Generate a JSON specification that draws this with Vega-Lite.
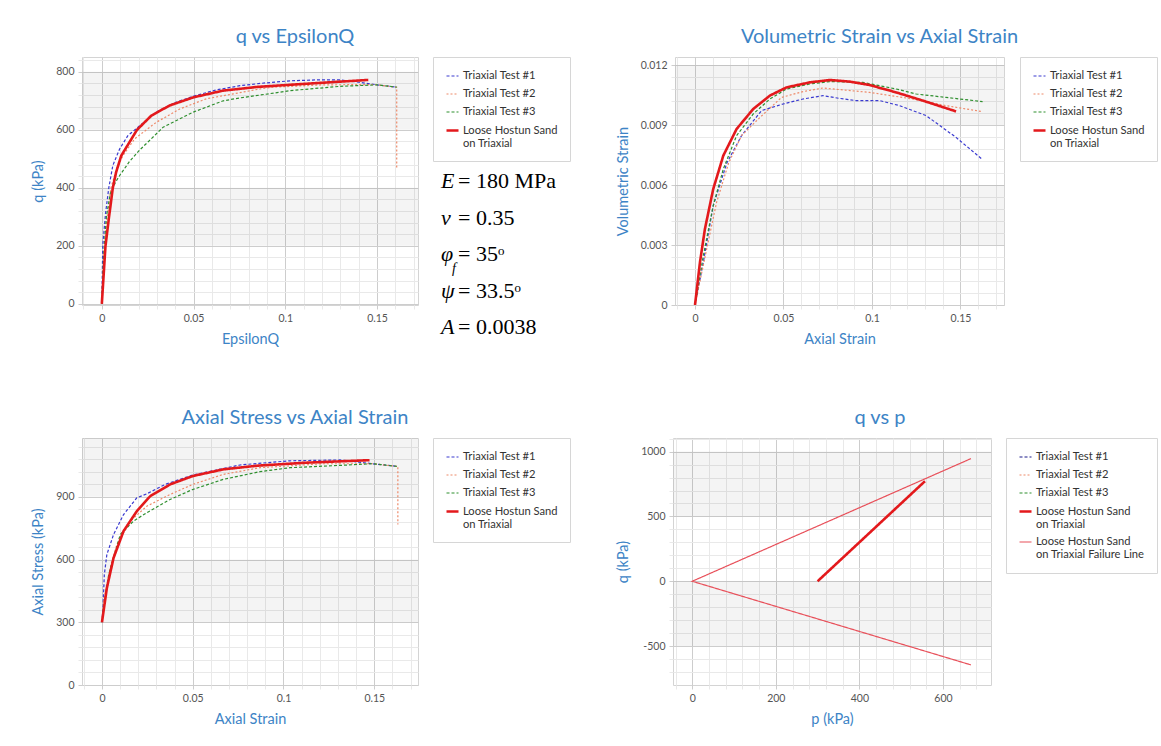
{
"$schema": "https://vega.github.io/schema/vega-lite/v6.json",
"background": "white",
"padding": {"left": 30, "top": 26, "right": 5, "bottom": 5},
"bounds": "flush",
"spacing": 381,
"resolve": {"scale": {"color": "independent", "strokeDash": "independent", "strokeWidth": "independent"}, "legend": {"color": "independent", "strokeDash": "independent", "strokeWidth": "independent"}},
"datasets": {
"b1": [{"lo": 200, "hi": 400}, {"lo": 600, "hi": 800}],
"b2": [{"lo": 0.003, "hi": 0.006}, {"lo": 0.009, "hi": 0.012}],
"b3": [{"lo": 300, "hi": 600}, {"lo": 900, "hi": 1200}],
"b4": [{"lo": -500, "hi": 0}, {"lo": 500, "hi": 1000}],
"f1": [{"v": "E", "t": "= 180 MPa"}, {"v": "ν", "t": "= 0.35"}, {"v": "φ", "t": "= 35ᵒ"}, {"v": "ψ", "t": "= 33.5ᵒ"}, {"v": "A", "t": "= 0.0038"}],
"f2": [{"sub": "f"}],
"p1t": [
{"s": "Triaxial Test #1", "x": 0, "y": 0}, {"s": "Triaxial Test #1", "x": 0.0005, "y": 200}, {"s": "Triaxial Test #1", "x": 0.002, "y": 310}, {"s": "Triaxial Test #1", "x": 0.0038, "y": 400}, {"s": "Triaxial Test #1", "x": 0.006, "y": 477}, {"s": "Triaxial Test #1", "x": 0.0097, "y": 534}, {"s": "Triaxial Test #1", "x": 0.0142, "y": 580}, {"s": "Triaxial Test #1", "x": 0.0203, "y": 612}, {"s": "Triaxial Test #1", "x": 0.03, "y": 662}, {"s": "Triaxial Test #1", "x": 0.04, "y": 694}, {"s": "Triaxial Test #1", "x": 0.05, "y": 716}, {"s": "Triaxial Test #1", "x": 0.062, "y": 737}, {"s": "Triaxial Test #1", "x": 0.0753, "y": 752}, {"s": "Triaxial Test #1", "x": 0.0863, "y": 760}, {"s": "Triaxial Test #1", "x": 0.1027, "y": 769}, {"s": "Triaxial Test #1", "x": 0.117, "y": 772}, {"s": "Triaxial Test #1", "x": 0.13, "y": 772}, {"s": "Triaxial Test #1", "x": 0.14, "y": 764}, {"s": "Triaxial Test #1", "x": 0.15, "y": 755}, {"s": "Triaxial Test #1", "x": 0.1607, "y": 747},
{"s": "Triaxial Test #2", "x": 0, "y": 0}, {"s": "Triaxial Test #2", "x": 0.001, "y": 150}, {"s": "Triaxial Test #2", "x": 0.0025, "y": 280}, {"s": "Triaxial Test #2", "x": 0.005, "y": 400}, {"s": "Triaxial Test #2", "x": 0.008, "y": 465}, {"s": "Triaxial Test #2", "x": 0.0115, "y": 511}, {"s": "Triaxial Test #2", "x": 0.0179, "y": 569}, {"s": "Triaxial Test #2", "x": 0.0297, "y": 626}, {"s": "Triaxial Test #2", "x": 0.0425, "y": 672}, {"s": "Triaxial Test #2", "x": 0.057, "y": 707}, {"s": "Triaxial Test #2", "x": 0.0717, "y": 724}, {"s": "Triaxial Test #2", "x": 0.0863, "y": 741}, {"s": "Triaxial Test #2", "x": 0.0936, "y": 747}, {"s": "Triaxial Test #2", "x": 0.121, "y": 755}, {"s": "Triaxial Test #2", "x": 0.148, "y": 756}, {"s": "Triaxial Test #2", "x": 0.1607, "y": 747}, {"s": "Triaxial Test #2", "x": 0.1607, "y": 466},
{"s": "Triaxial Test #3", "x": 0, "y": 0}, {"s": "Triaxial Test #3", "x": 0.001, "y": 170}, {"s": "Triaxial Test #3", "x": 0.0025, "y": 300}, {"s": "Triaxial Test #3", "x": 0.0046, "y": 380}, {"s": "Triaxial Test #3", "x": 0.0075, "y": 420}, {"s": "Triaxial Test #3", "x": 0.01, "y": 445}, {"s": "Triaxial Test #3", "x": 0.015, "y": 490}, {"s": "Triaxial Test #3", "x": 0.0206, "y": 530}, {"s": "Triaxial Test #3", "x": 0.0334, "y": 609}, {"s": "Triaxial Test #3", "x": 0.0498, "y": 661}, {"s": "Triaxial Test #3", "x": 0.0662, "y": 700}, {"s": "Triaxial Test #3", "x": 0.0753, "y": 710}, {"s": "Triaxial Test #3", "x": 0.0864, "y": 720}, {"s": "Triaxial Test #3", "x": 0.1027, "y": 735}, {"s": "Triaxial Test #3", "x": 0.13, "y": 750}, {"s": "Triaxial Test #3", "x": 0.15, "y": 755}, {"s": "Triaxial Test #3", "x": 0.1607, "y": 747}
],
"p1r": [
{"s": "Loose Hostun Sand on Triaxial", "x": 0, "y": 0}, {"s": "Loose Hostun Sand on Triaxial", "x": 0.001, "y": 100}, {"s": "Loose Hostun Sand on Triaxial", "x": 0.002, "y": 200}, {"s": "Loose Hostun Sand on Triaxial", "x": 0.0038, "y": 293}, {"s": "Loose Hostun Sand on Triaxial", "x": 0.006, "y": 400}, {"s": "Loose Hostun Sand on Triaxial", "x": 0.0078, "y": 454}, {"s": "Loose Hostun Sand on Triaxial", "x": 0.0106, "y": 511}, {"s": "Loose Hostun Sand on Triaxial", "x": 0.0192, "y": 600}, {"s": "Loose Hostun Sand on Triaxial", "x": 0.027, "y": 649}, {"s": "Loose Hostun Sand on Triaxial", "x": 0.037, "y": 684}, {"s": "Loose Hostun Sand on Triaxial", "x": 0.05, "y": 712}, {"s": "Loose Hostun Sand on Triaxial", "x": 0.066, "y": 735}, {"s": "Loose Hostun Sand on Triaxial", "x": 0.085, "y": 748}, {"s": "Loose Hostun Sand on Triaxial", "x": 0.112, "y": 759}, {"s": "Loose Hostun Sand on Triaxial", "x": 0.1452, "y": 772}
],
"p2t": [
{"s": "Triaxial Test #1", "x": 0, "y": 0}, {"s": "Triaxial Test #1", "x": 0.0047, "y": 0.00213}, {"s": "Triaxial Test #1", "x": 0.0103, "y": 0.00497}, {"s": "Triaxial Test #1", "x": 0.018, "y": 0.0071}, {"s": "Triaxial Test #1", "x": 0.0263, "y": 0.00847}, {"s": "Triaxial Test #1", "x": 0.0376, "y": 0.00972}, {"s": "Triaxial Test #1", "x": 0.0498, "y": 0.01005}, {"s": "Triaxial Test #1", "x": 0.061, "y": 0.0103}, {"s": "Triaxial Test #1", "x": 0.0723, "y": 0.01047}, {"s": "Triaxial Test #1", "x": 0.0817, "y": 0.01033}, {"s": "Triaxial Test #1", "x": 0.091, "y": 0.01022}, {"s": "Triaxial Test #1", "x": 0.1043, "y": 0.01022}, {"s": "Triaxial Test #1", "x": 0.1155, "y": 0.00997}, {"s": "Triaxial Test #1", "x": 0.1306, "y": 0.00947}, {"s": "Triaxial Test #1", "x": 0.1475, "y": 0.00838}, {"s": "Triaxial Test #1", "x": 0.1625, "y": 0.00727},
{"s": "Triaxial Test #2", "x": 0, "y": 0}, {"s": "Triaxial Test #2", "x": 0.0066, "y": 0.0028}, {"s": "Triaxial Test #2", "x": 0.0122, "y": 0.00513}, {"s": "Triaxial Test #2", "x": 0.019, "y": 0.0071}, {"s": "Triaxial Test #2", "x": 0.0263, "y": 0.00847}, {"s": "Triaxial Test #2", "x": 0.0367, "y": 0.00938}, {"s": "Triaxial Test #2", "x": 0.0489, "y": 0.01038}, {"s": "Triaxial Test #2", "x": 0.061, "y": 0.01067}, {"s": "Triaxial Test #2", "x": 0.0723, "y": 0.01085}, {"s": "Triaxial Test #2", "x": 0.0817, "y": 0.01077}, {"s": "Triaxial Test #2", "x": 0.0986, "y": 0.01063}, {"s": "Triaxial Test #2", "x": 0.1231, "y": 0.0103}, {"s": "Triaxial Test #2", "x": 0.1418, "y": 0.00997}, {"s": "Triaxial Test #2", "x": 0.1615, "y": 0.00968},
{"s": "Triaxial Test #3", "x": 0, "y": 0}, {"s": "Triaxial Test #3", "x": 0.0047, "y": 0.00247}, {"s": "Triaxial Test #3", "x": 0.0103, "y": 0.00497}, {"s": "Triaxial Test #3", "x": 0.016, "y": 0.0068}, {"s": "Triaxial Test #3", "x": 0.0235, "y": 0.00847}, {"s": "Triaxial Test #3", "x": 0.0329, "y": 0.00955}, {"s": "Triaxial Test #3", "x": 0.0423, "y": 0.0103}, {"s": "Triaxial Test #3", "x": 0.0517, "y": 0.0108}, {"s": "Triaxial Test #3", "x": 0.0648, "y": 0.01105}, {"s": "Triaxial Test #3", "x": 0.0761, "y": 0.01117}, {"s": "Triaxial Test #3", "x": 0.0949, "y": 0.01113}, {"s": "Triaxial Test #3", "x": 0.1137, "y": 0.0108}, {"s": "Triaxial Test #3", "x": 0.125, "y": 0.01055}, {"s": "Triaxial Test #3", "x": 0.1418, "y": 0.01038}, {"s": "Triaxial Test #3", "x": 0.1625, "y": 0.01017}
],
"p2r": [
{"s": "Loose Hostun Sand on Triaxial", "x": 0, "y": 0}, {"s": "Loose Hostun Sand on Triaxial", "x": 0.0028, "y": 0.00213}, {"s": "Loose Hostun Sand on Triaxial", "x": 0.0056, "y": 0.0038}, {"s": "Loose Hostun Sand on Triaxial", "x": 0.0103, "y": 0.0058}, {"s": "Loose Hostun Sand on Triaxial", "x": 0.016, "y": 0.00747}, {"s": "Loose Hostun Sand on Triaxial", "x": 0.0235, "y": 0.0088}, {"s": "Loose Hostun Sand on Triaxial", "x": 0.0329, "y": 0.0098}, {"s": "Loose Hostun Sand on Triaxial", "x": 0.0423, "y": 0.01047}, {"s": "Loose Hostun Sand on Triaxial", "x": 0.0517, "y": 0.01088}, {"s": "Loose Hostun Sand on Triaxial", "x": 0.0648, "y": 0.01113}, {"s": "Loose Hostun Sand on Triaxial", "x": 0.0761, "y": 0.01125}, {"s": "Loose Hostun Sand on Triaxial", "x": 0.0874, "y": 0.01117}, {"s": "Loose Hostun Sand on Triaxial", "x": 0.0986, "y": 0.011}, {"s": "Loose Hostun Sand on Triaxial", "x": 0.1137, "y": 0.01063}, {"s": "Loose Hostun Sand on Triaxial", "x": 0.1287, "y": 0.01022}, {"s": "Loose Hostun Sand on Triaxial", "x": 0.1475, "y": 0.00968}
],
"p3t": [
{"s": "Triaxial Test #1", "x": 0, "y": 300}, {"s": "Triaxial Test #1", "x": 0.00055, "y": 369}, {"s": "Triaxial Test #1", "x": 0.0013, "y": 528}, {"s": "Triaxial Test #1", "x": 0.0027, "y": 624}, {"s": "Triaxial Test #1", "x": 0.0064, "y": 720}, {"s": "Triaxial Test #1", "x": 0.0119, "y": 815}, {"s": "Triaxial Test #1", "x": 0.0192, "y": 895}, {"s": "Triaxial Test #1", "x": 0.0247, "y": 914}, {"s": "Triaxial Test #1", "x": 0.035, "y": 960}, {"s": "Triaxial Test #1", "x": 0.05, "y": 1004}, {"s": "Triaxial Test #1", "x": 0.076, "y": 1052}, {"s": "Triaxial Test #1", "x": 0.1035, "y": 1072}, {"s": "Triaxial Test #1", "x": 0.131, "y": 1076}, {"s": "Triaxial Test #1", "x": 0.149, "y": 1058}, {"s": "Triaxial Test #1", "x": 0.163, "y": 1045},
{"s": "Triaxial Test #2", "x": 0, "y": 300}, {"s": "Triaxial Test #2", "x": 0.0009, "y": 400}, {"s": "Triaxial Test #2", "x": 0.0046, "y": 560}, {"s": "Triaxial Test #2", "x": 0.0082, "y": 672}, {"s": "Triaxial Test #2", "x": 0.0156, "y": 784}, {"s": "Triaxial Test #2", "x": 0.0247, "y": 855}, {"s": "Triaxial Test #2", "x": 0.0375, "y": 911}, {"s": "Triaxial Test #2", "x": 0.05, "y": 959}, {"s": "Triaxial Test #2", "x": 0.0668, "y": 1007}, {"s": "Triaxial Test #2", "x": 0.087, "y": 1039}, {"s": "Triaxial Test #2", "x": 0.1218, "y": 1058}, {"s": "Triaxial Test #2", "x": 0.149, "y": 1058}, {"s": "Triaxial Test #2", "x": 0.163, "y": 1045}, {"s": "Triaxial Test #2", "x": 0.163, "y": 768},
{"s": "Triaxial Test #3", "x": 0, "y": 300}, {"s": "Triaxial Test #3", "x": 0.0009, "y": 369}, {"s": "Triaxial Test #3", "x": 0.0037, "y": 528}, {"s": "Triaxial Test #3", "x": 0.0101, "y": 720}, {"s": "Triaxial Test #3", "x": 0.0174, "y": 784}, {"s": "Triaxial Test #3", "x": 0.0247, "y": 824}, {"s": "Triaxial Test #3", "x": 0.0375, "y": 887}, {"s": "Triaxial Test #3", "x": 0.05, "y": 935}, {"s": "Triaxial Test #3", "x": 0.0668, "y": 983}, {"s": "Triaxial Test #3", "x": 0.087, "y": 1020}, {"s": "Triaxial Test #3", "x": 0.1035, "y": 1039}, {"s": "Triaxial Test #3", "x": 0.131, "y": 1050}, {"s": "Triaxial Test #3", "x": 0.149, "y": 1058}, {"s": "Triaxial Test #3", "x": 0.163, "y": 1045}
],
"p3r": [
{"s": "Loose Hostun Sand on Triaxial", "x": 0, "y": 300}, {"s": "Loose Hostun Sand on Triaxial", "x": 0.0027, "y": 464}, {"s": "Loose Hostun Sand on Triaxial", "x": 0.0064, "y": 608}, {"s": "Loose Hostun Sand on Triaxial", "x": 0.0119, "y": 736}, {"s": "Loose Hostun Sand on Triaxial", "x": 0.0192, "y": 831}, {"s": "Loose Hostun Sand on Triaxial", "x": 0.0266, "y": 903}, {"s": "Loose Hostun Sand on Triaxial", "x": 0.0375, "y": 959}, {"s": "Loose Hostun Sand on Triaxial", "x": 0.05, "y": 999}, {"s": "Loose Hostun Sand on Triaxial", "x": 0.0668, "y": 1031}, {"s": "Loose Hostun Sand on Triaxial", "x": 0.086, "y": 1049}, {"s": "Loose Hostun Sand on Triaxial", "x": 0.1126, "y": 1063}, {"s": "Loose Hostun Sand on Triaxial", "x": 0.1474, "y": 1075}
],
"p4f": [
{"s": "Loose Hostun Sand on Triaxial Failure Line", "x": 667, "y": 946}, {"s": "Loose Hostun Sand on Triaxial Failure Line", "x": 0, "y": 0}, {"s": "Loose Hostun Sand on Triaxial Failure Line", "x": 667, "y": -645}
],
"p4r": [
{"s": "Loose Hostun Sand on Triaxial", "x": 300, "y": 0}, {"s": "Loose Hostun Sand on Triaxial", "x": 557, "y": 772}
]
},
"vconcat": [
{"hconcat": [
{
"width": 336, "height": 248,
"title": {"text": "q vs EpsilonQ", "dx": 45},
"layer": [
{"data": {"name": "b1"}, "mark": {"type": "rect", "fill": "#000", "fillOpacity": 0.045, "clip": true},
 "encoding": {"y": {"field": "lo", "type": "quantitative", "scale": {"domain": [-4, 851], "nice": false, "zero": false}, "axis": null}, "y2": {"field": "hi"}}},
{"data": {"name": "p1t"}, "mark": {"type": "line", "clip": true},
 "encoding": {
  "x": {"field": "x", "type": "quantitative", "scale": {"domain": [-0.0108, 0.1723], "nice": false, "zero": false}, "axis": {"orient": "bottom", "values": [-0.01, 0.01, 0.02, 0.03, 0.04, 0.06, 0.07, 0.08, 0.09, 0.11, 0.12, 0.13, 0.14, 0.16, 0.17], "labels": false, "title": null, "grid": true, "gridColor": "#e9e9e9", "tickColor": "#e9e9e9"}},
  "y": {"field": "y", "type": "quantitative", "scale": {"domain": [-4, 851], "nice": false, "zero": false}, "axis": {"orient": "left", "values": [40, 80, 120, 160, 240, 280, 320, 360, 440, 480, 520, 560, 640, 680, 720, 760, 840], "labels": false, "title": null, "grid": true, "gridColor": "#e9e9e9", "tickColor": "#e9e9e9"}},
  "color": {"field": "s", "type": "nominal", "scale": {"domain": ["Triaxial Test #1", "Triaxial Test #2", "Triaxial Test #3", "Loose Hostun Sand on Triaxial"], "range": ["#3a3ad0", "#ee8a6a", "#2f8f2f", "#e3191c"]}, "legend": {"title": null, "orient": "none", "legendX": 351, "legendY": 0, "strokeColor": "#d6d6d6", "fillColor": "#ffffff", "padding": 12, "rowPadding": 5, "symbolType": "stroke", "symbolSize": 144, "labelOffset": 3, "labelFont": "Lato", "labelFontSize": 11.2, "labelColor": "#333333", "labelLimit": 0, "labelExpr": "indexof(datum.label, 'Loose') == 0 ? ['Loose Hostun Sand', slice(datum.label, 18)] : datum.label"}},
  "strokeDash": {"field": "s", "type": "nominal", "scale": {"domain": ["Triaxial Test #1", "Triaxial Test #2", "Triaxial Test #3", "Loose Hostun Sand on Triaxial"], "range": [[3, 2], [2, 2], [3, 2], [1, 0]]}},
  "strokeWidth": {"field": "s", "type": "nominal", "scale": {"type": "ordinal", "domain": ["Triaxial Test #1", "Triaxial Test #2", "Triaxial Test #3", "Loose Hostun Sand on Triaxial"], "range": [1.2, 1.2, 1.2, 2.6]}},
  "order": {"value": null}
 }},
{"data": {"name": "p1r"}, "mark": {"type": "line", "clip": true},
 "encoding": {
  "x": {"field": "x", "type": "quantitative", "scale": {"domain": [-0.0108, 0.1723], "nice": false, "zero": false}, "axis": {"orient": "bottom", "values": [0, 0.05, 0.1, 0.15], "labelExpr": "toString(datum.value)", "title": "EpsilonQ", "grid": true, "gridColor": "#cdcdcd", "tickColor": "#cdcdcd"}},
  "y": {"field": "y", "type": "quantitative", "scale": {"domain": [-4, 851], "nice": false, "zero": false}, "axis": {"orient": "left", "values": [0, 200, 400, 600, 800], "labelExpr": "toString(datum.value)", "title": "q (kPa)", "grid": true, "gridColor": "#cdcdcd", "tickColor": "#cdcdcd"}},
  "color": {"field": "s", "type": "nominal", "scale": {"domain": ["Triaxial Test #1", "Triaxial Test #2", "Triaxial Test #3", "Loose Hostun Sand on Triaxial"], "range": ["#3a3ad0", "#ee8a6a", "#2f8f2f", "#e3191c"]}},
  "strokeDash": {"field": "s", "type": "nominal", "scale": {"domain": ["Triaxial Test #1", "Triaxial Test #2", "Triaxial Test #3", "Loose Hostun Sand on Triaxial"], "range": [[3, 2], [2, 2], [3, 2], [1, 0]]}},
  "strokeWidth": {"field": "s", "type": "nominal", "scale": {"type": "ordinal", "domain": ["Triaxial Test #1", "Triaxial Test #2", "Triaxial Test #3", "Loose Hostun Sand on Triaxial"], "range": [1.2, 1.2, 1.2, 2.6]}},
  "order": {"value": null}
 }},
{"data": {"name": "f1"}, "mark": {"type": "point", "opacity": 0},
 "encoding": {
  "shape": {"field": "v", "type": "nominal", "scale": {"domain": ["E", "ν", "φ", "ψ", "A"]}, "legend": {"title": null, "orient": "none", "legendX": 337, "legendY": 113, "padding": 0, "rowPadding": 14.5, "symbolSize": 0, "symbolOpacity": 0, "labelOffset": 0, "labelFont": "Liberation Serif", "labelFontStyle": "italic", "labelFontSize": 22, "labelColor": "#000000", "labelLimit": 0}},
  "fill": {"field": "t", "type": "nominal", "scale": {"domain": ["= 180 MPa", "= 0.35", "= 35ᵒ", "= 33.5ᵒ", "= 0.0038"]}, "legend": {"title": null, "orient": "none", "legendX": 354, "legendY": 113, "padding": 0, "rowPadding": 14.5, "symbolSize": 0, "symbolOpacity": 0, "labelOffset": 0, "labelFont": "Liberation Serif", "labelFontSize": 22, "labelColor": "#000000", "labelLimit": 0}}
 }},
{"data": {"name": "f2"}, "mark": {"type": "point", "opacity": 0},
 "encoding": {
  "stroke": {"field": "sub", "type": "nominal", "legend": {"title": null, "orient": "none", "legendX": 356, "legendY": 205, "padding": 0, "symbolSize": 0, "symbolOpacity": 0, "labelOffset": 0, "labelFont": "Liberation Serif", "labelFontStyle": "italic", "labelFontSize": 14, "labelColor": "#000000", "labelLimit": 0}}
 }}
],
"resolve": {"axis": {"x": "independent", "y": "independent"}}
},
{
"width": 329, "height": 248,
"title": {"text": "Volumetric Strain vs Axial Strain", "dx": 40},
"layer": [
{"data": {"name": "b2"}, "mark": {"type": "rect", "fill": "#000", "fillOpacity": 0.045, "clip": true},
 "encoding": {"y": {"field": "lo", "type": "quantitative", "scale": {"domain": [0, 0.0124], "nice": false, "zero": false}, "axis": null}, "y2": {"field": "hi"}}},
{"data": {"name": "p2t"}, "mark": {"type": "line", "clip": true},
 "encoding": {
  "x": {"field": "x", "type": "quantitative", "scale": {"domain": [-0.0113, 0.1746], "nice": false, "zero": false}, "axis": {"orient": "bottom", "values": [-0.01, 0.01, 0.02, 0.03, 0.04, 0.06, 0.07, 0.08, 0.09, 0.11, 0.12, 0.13, 0.14, 0.16, 0.17], "labels": false, "title": null, "grid": true, "gridColor": "#e9e9e9", "tickColor": "#e9e9e9"}},
  "y": {"field": "y", "type": "quantitative", "scale": {"domain": [0, 0.0124], "nice": false, "zero": false}, "axis": {"orient": "left", "values": [0.0006, 0.0012, 0.0018, 0.0024, 0.0036, 0.0042, 0.0048, 0.0054, 0.0066, 0.0072, 0.0078, 0.0084, 0.0096, 0.0102, 0.0108, 0.0114], "labels": false, "title": null, "grid": true, "gridColor": "#e9e9e9", "tickColor": "#e9e9e9"}},
  "color": {"field": "s", "type": "nominal", "scale": {"domain": ["Triaxial Test #1", "Triaxial Test #2", "Triaxial Test #3", "Loose Hostun Sand on Triaxial"], "range": ["#3a3ad0", "#ee8a6a", "#2f8f2f", "#e3191c"]}, "legend": {"title": null, "orient": "none", "legendX": 345, "legendY": 0, "strokeColor": "#d6d6d6", "fillColor": "#ffffff", "padding": 12, "rowPadding": 5, "symbolType": "stroke", "symbolSize": 144, "labelOffset": 3, "labelFont": "Lato", "labelFontSize": 11.2, "labelColor": "#333333", "labelLimit": 0, "labelExpr": "indexof(datum.label, 'Loose') == 0 ? ['Loose Hostun Sand', slice(datum.label, 18)] : datum.label"}},
  "strokeDash": {"field": "s", "type": "nominal", "scale": {"domain": ["Triaxial Test #1", "Triaxial Test #2", "Triaxial Test #3", "Loose Hostun Sand on Triaxial"], "range": [[3, 2], [2, 2], [3, 2], [1, 0]]}},
  "strokeWidth": {"field": "s", "type": "nominal", "scale": {"type": "ordinal", "domain": ["Triaxial Test #1", "Triaxial Test #2", "Triaxial Test #3", "Loose Hostun Sand on Triaxial"], "range": [1.2, 1.2, 1.2, 2.6]}},
  "order": {"value": null}
 }},
{"data": {"name": "p2r"}, "mark": {"type": "line", "clip": true},
 "encoding": {
  "x": {"field": "x", "type": "quantitative", "scale": {"domain": [-0.0113, 0.1746], "nice": false, "zero": false}, "axis": {"orient": "bottom", "values": [0, 0.05, 0.1, 0.15], "labelExpr": "toString(datum.value)", "title": "Axial Strain", "grid": true, "gridColor": "#cdcdcd", "tickColor": "#cdcdcd"}},
  "y": {"field": "y", "type": "quantitative", "scale": {"domain": [0, 0.0124], "nice": false, "zero": false}, "axis": {"orient": "left", "values": [0, 0.003, 0.006, 0.009, 0.012], "labelExpr": "toString(datum.value)", "title": "Volumetric Strain", "grid": true, "gridColor": "#cdcdcd", "tickColor": "#cdcdcd"}},
  "color": {"field": "s", "type": "nominal", "scale": {"domain": ["Triaxial Test #1", "Triaxial Test #2", "Triaxial Test #3", "Loose Hostun Sand on Triaxial"], "range": ["#3a3ad0", "#ee8a6a", "#2f8f2f", "#e3191c"]}},
  "strokeDash": {"field": "s", "type": "nominal", "scale": {"domain": ["Triaxial Test #1", "Triaxial Test #2", "Triaxial Test #3", "Loose Hostun Sand on Triaxial"], "range": [[3, 2], [2, 2], [3, 2], [1, 0]]}},
  "strokeWidth": {"field": "s", "type": "nominal", "scale": {"type": "ordinal", "domain": ["Triaxial Test #1", "Triaxial Test #2", "Triaxial Test #3", "Loose Hostun Sand on Triaxial"], "range": [1.2, 1.2, 1.2, 2.6]}},
  "order": {"value": null}
 }}
],
"resolve": {"axis": {"x": "independent", "y": "independent"}}
}
], "spacing": 257, "bounds": "flush",
"resolve": {"scale": {"color": "independent", "strokeDash": "independent", "strokeWidth": "independent"}, "legend": {"color": "independent", "strokeDash": "independent", "strokeWidth": "independent"}}},
{"hconcat": [
{
"width": 336, "height": 247,
"title": {"text": "Axial Stress vs Axial Strain", "dx": 45},
"layer": [
{"data": {"name": "b3"}, "mark": {"type": "rect", "fill": "#000", "fillOpacity": 0.045, "clip": true},
 "encoding": {"y": {"field": "lo", "type": "quantitative", "scale": {"domain": [0, 1181], "nice": false, "zero": false}, "axis": null}, "y2": {"field": "hi"}}},
{"data": {"name": "p3t"}, "mark": {"type": "line", "clip": true},
 "encoding": {
  "x": {"field": "x", "type": "quantitative", "scale": {"domain": [-0.011, 0.1741], "nice": false, "zero": false}, "axis": {"orient": "bottom", "values": [-0.01, 0.01, 0.02, 0.03, 0.04, 0.06, 0.07, 0.08, 0.09, 0.11, 0.12, 0.13, 0.14, 0.16, 0.17], "labels": false, "title": null, "grid": true, "gridColor": "#e9e9e9", "tickColor": "#e9e9e9"}},
  "y": {"field": "y", "type": "quantitative", "scale": {"domain": [0, 1181], "nice": false, "zero": false}, "axis": {"orient": "left", "values": [60, 120, 180, 240, 360, 420, 480, 540, 660, 720, 780, 840, 960, 1020, 1080, 1140], "labels": false, "title": null, "grid": true, "gridColor": "#e9e9e9", "tickColor": "#e9e9e9"}},
  "color": {"field": "s", "type": "nominal", "scale": {"domain": ["Triaxial Test #1", "Triaxial Test #2", "Triaxial Test #3", "Loose Hostun Sand on Triaxial"], "range": ["#3a3ad0", "#ee8a6a", "#2f8f2f", "#e3191c"]}, "legend": {"title": null, "orient": "none", "legendX": 351, "legendY": 0, "strokeColor": "#d6d6d6", "fillColor": "#ffffff", "padding": 12, "rowPadding": 5, "symbolType": "stroke", "symbolSize": 144, "labelOffset": 3, "labelFont": "Lato", "labelFontSize": 11.2, "labelColor": "#333333", "labelLimit": 0, "labelExpr": "indexof(datum.label, 'Loose') == 0 ? ['Loose Hostun Sand', slice(datum.label, 18)] : datum.label"}},
  "strokeDash": {"field": "s", "type": "nominal", "scale": {"domain": ["Triaxial Test #1", "Triaxial Test #2", "Triaxial Test #3", "Loose Hostun Sand on Triaxial"], "range": [[3, 2], [2, 2], [3, 2], [1, 0]]}},
  "strokeWidth": {"field": "s", "type": "nominal", "scale": {"type": "ordinal", "domain": ["Triaxial Test #1", "Triaxial Test #2", "Triaxial Test #3", "Loose Hostun Sand on Triaxial"], "range": [1.2, 1.2, 1.2, 2.6]}},
  "order": {"value": null}
 }},
{"data": {"name": "p3r"}, "mark": {"type": "line", "clip": true},
 "encoding": {
  "x": {"field": "x", "type": "quantitative", "scale": {"domain": [-0.011, 0.1741], "nice": false, "zero": false}, "axis": {"orient": "bottom", "values": [0, 0.05, 0.1, 0.15], "labelExpr": "toString(datum.value)", "title": "Axial Strain", "grid": true, "gridColor": "#cdcdcd", "tickColor": "#cdcdcd"}},
  "y": {"field": "y", "type": "quantitative", "scale": {"domain": [0, 1181], "nice": false, "zero": false}, "axis": {"orient": "left", "values": [0, 300, 600, 900], "labelExpr": "toString(datum.value)", "title": "Axial Stress (kPa)", "grid": true, "gridColor": "#cdcdcd", "tickColor": "#cdcdcd"}},
  "color": {"field": "s", "type": "nominal", "scale": {"domain": ["Triaxial Test #1", "Triaxial Test #2", "Triaxial Test #3", "Loose Hostun Sand on Triaxial"], "range": ["#3a3ad0", "#ee8a6a", "#2f8f2f", "#e3191c"]}},
  "strokeDash": {"field": "s", "type": "nominal", "scale": {"domain": ["Triaxial Test #1", "Triaxial Test #2", "Triaxial Test #3", "Loose Hostun Sand on Triaxial"], "range": [[3, 2], [2, 2], [3, 2], [1, 0]]}},
  "strokeWidth": {"field": "s", "type": "nominal", "scale": {"type": "ordinal", "domain": ["Triaxial Test #1", "Triaxial Test #2", "Triaxial Test #3", "Loose Hostun Sand on Triaxial"], "range": [1.2, 1.2, 1.2, 2.6]}},
  "order": {"value": null}
 }}
],
"resolve": {"axis": {"x": "independent", "y": "independent"}}
},
{
"width": 318, "height": 247,
"title": {"text": "q vs p", "dx": 48},
"layer": [
{"data": {"name": "b4"}, "mark": {"type": "rect", "fill": "#000", "fillOpacity": 0.045, "clip": true},
 "encoding": {"y": {"field": "lo", "type": "quantitative", "scale": {"domain": [-800, 1105], "nice": false, "zero": false}, "axis": null}, "y2": {"field": "hi"}}},
{"data": {"name": "p4f"}, "mark": {"type": "line", "clip": true},
 "encoding": {
  "x": {"field": "x", "type": "quantitative", "scale": {"domain": [-46, 715], "nice": false, "zero": false}, "axis": {"orient": "bottom", "values": [-40, 40, 80, 120, 160, 240, 280, 320, 360, 440, 480, 520, 560, 640, 680], "labels": false, "title": null, "grid": true, "gridColor": "#e9e9e9", "tickColor": "#e9e9e9"}},
  "y": {"field": "y", "type": "quantitative", "scale": {"domain": [-800, 1105], "nice": false, "zero": false}, "axis": {"orient": "left", "values": [-700, -600, -400, -300, -200, -100, 100, 200, 300, 400, 600, 700, 800, 900, 1100], "labels": false, "title": null, "grid": true, "gridColor": "#e9e9e9", "tickColor": "#e9e9e9"}},
  "color": {"field": "s", "type": "nominal", "scale": {"domain": ["Triaxial Test #1", "Triaxial Test #2", "Triaxial Test #3", "Loose Hostun Sand on Triaxial", "Loose Hostun Sand on Triaxial Failure Line"], "range": ["#1a1a8a", "#ee8a6a", "#2f8f2f", "#e3191c", "#e8505a"]}, "legend": {"title": null, "orient": "none", "legendX": 333, "legendY": 0, "strokeColor": "#d6d6d6", "fillColor": "#ffffff", "padding": 12, "rowPadding": 5, "symbolType": "stroke", "symbolSize": 144, "labelOffset": 3, "labelFont": "Lato", "labelFontSize": 11.2, "labelColor": "#333333", "labelLimit": 0, "labelExpr": "indexof(datum.label, 'Loose') == 0 ? ['Loose Hostun Sand', slice(datum.label, 18)] : datum.label"}},
  "strokeDash": {"field": "s", "type": "nominal", "scale": {"domain": ["Triaxial Test #1", "Triaxial Test #2", "Triaxial Test #3", "Loose Hostun Sand on Triaxial", "Loose Hostun Sand on Triaxial Failure Line"], "range": [[3, 2], [2, 2], [3, 2], [1, 0], [1, 0]]}},
  "strokeWidth": {"field": "s", "type": "nominal", "scale": {"type": "ordinal", "domain": ["Triaxial Test #1", "Triaxial Test #2", "Triaxial Test #3", "Loose Hostun Sand on Triaxial", "Loose Hostun Sand on Triaxial Failure Line"], "range": [1.2, 1.2, 1.2, 2.6, 1.2]}},
  "order": {"value": null}
 }},
{"data": {"name": "p4r"}, "mark": {"type": "line", "clip": true},
 "encoding": {
  "x": {"field": "x", "type": "quantitative", "scale": {"domain": [-46, 715], "nice": false, "zero": false}, "axis": {"orient": "bottom", "values": [0, 200, 400, 600], "labelExpr": "toString(datum.value)", "title": "p (kPa)", "grid": true, "gridColor": "#cdcdcd", "tickColor": "#cdcdcd"}},
  "y": {"field": "y", "type": "quantitative", "scale": {"domain": [-800, 1105], "nice": false, "zero": false}, "axis": {"orient": "left", "values": [-500, 0, 500, 1000], "labelExpr": "toString(datum.value)", "title": "q (kPa)", "grid": true, "gridColor": "#cdcdcd", "tickColor": "#cdcdcd"}},
  "color": {"field": "s", "type": "nominal", "scale": {"domain": ["Triaxial Test #1", "Triaxial Test #2", "Triaxial Test #3", "Loose Hostun Sand on Triaxial", "Loose Hostun Sand on Triaxial Failure Line"], "range": ["#1a1a8a", "#ee8a6a", "#2f8f2f", "#e3191c", "#e8505a"]}},
  "strokeDash": {"field": "s", "type": "nominal", "scale": {"domain": ["Triaxial Test #1", "Triaxial Test #2", "Triaxial Test #3", "Loose Hostun Sand on Triaxial", "Loose Hostun Sand on Triaxial Failure Line"], "range": [[3, 2], [2, 2], [3, 2], [1, 0], [1, 0]]}},
  "strokeWidth": {"field": "s", "type": "nominal", "scale": {"type": "ordinal", "domain": ["Triaxial Test #1", "Triaxial Test #2", "Triaxial Test #3", "Loose Hostun Sand on Triaxial", "Loose Hostun Sand on Triaxial Failure Line"], "range": [1.2, 1.2, 1.2, 2.6, 1.2]}},
  "order": {"value": null}
 }}
],
"resolve": {"axis": {"x": "independent", "y": "independent"}}
}
], "spacing": 255, "bounds": "flush",
"resolve": {"scale": {"color": "independent", "strokeDash": "independent", "strokeWidth": "independent"}, "legend": {"color": "independent", "strokeDash": "independent", "strokeWidth": "independent"}}}
],
"config": {
 "font": "Lato",
 "view": {"stroke": "#d4d4d4"},
 "title": {"font": "Lato", "fontSize": 20, "fontWeight": "normal", "color": "#3d84c6", "anchor": "middle", "offset": 10},
 "axis": {"labelFont": "Lato", "labelFontSize": 10.5, "labelColor": "#555555", "titleFont": "Lato", "titleFontSize": 14.5, "titleColor": "#3d84c6", "titleFontWeight": "normal", "domain": false, "tickSize": 4, "labelPadding": 4, "titlePadding": 9},
 "axisY": {"titlePadding": 10}
}
}
